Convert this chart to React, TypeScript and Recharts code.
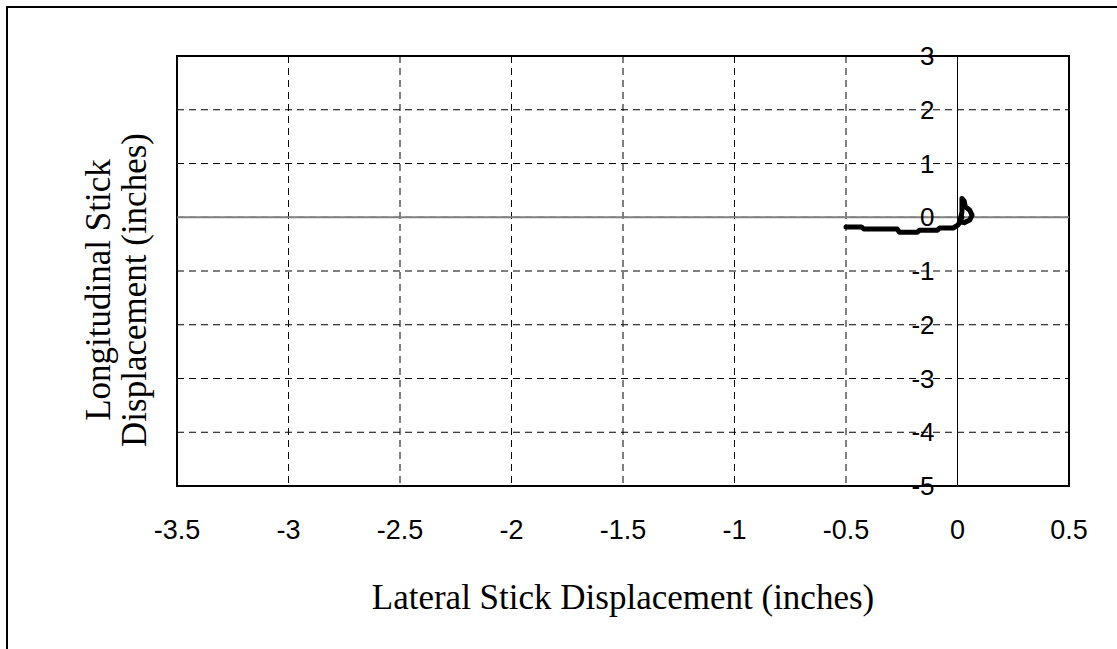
import React from 'react'
import { LineChart, Line, XAxis, YAxis, CartesianGrid, ReferenceLine, ReferenceArea } from 'recharts'

// stick trace, lateral (x) vs longitudinal (y), in inches
const lateral = [-0.5, -0.43, -0.42, -0.27, -0.26, -0.18, -0.17, -0.09, -0.08, -0.02, 0.0, 0.01, 0.02, 0.02, 0.03, 0.035, 0.055, 0.065, 0.055, 0.03, 0.01, 0.02]
const longitudinal = [-0.18, -0.18, -0.22, -0.22, -0.28, -0.28, -0.24, -0.24, -0.2, -0.2, -0.15, -0.1, 0.1, 0.35, 0.3, 0.2, 0.13, 0.04, -0.05, -0.1, -0.08, 0.0]

const xTicks = [-3.5, -3, -2.5, -2, -1.5, -1, -0.5, 0, 0.5]
const yTicks = [3, 2, 1, 0, -1, -2, -3, -4, -5]

const W = 1117
const H = 649
const PLOT_LEFT = 177
const PLOT_TOP = 56
const PLOT_RIGHT = 1069
const PLOT_BOTTOM = 486

const X_MIN = -3.5
const X_MAX = 0.5
// y axis crosses at x = 0
const Y_AXIS_X = PLOT_LEFT + ((0 - X_MIN) / (X_MAX - X_MIN)) * (PLOT_RIGHT - PLOT_LEFT)

const data = lateral.map((x, i) => ({ x, y: longitudinal[i] }))

const YTick = (props: any) => {
  const { y, payload } = props
  return (
    <text x={Y_AXIS_X - 23} y={y} textAnchor='end' dominantBaseline='central'
      fontFamily='Liberation Sans, Arial' fontSize={26} fill='#000'>
      {payload.value}
    </text>
  )
}

const XTick = (props: any) => {
  const { x, payload } = props
  return (
    <text x={x} y={PLOT_BOTTOM + 44} textAnchor='middle' dominantBaseline='central'
      fontFamily='Liberation Sans, Arial' fontSize={27} fill='#000'>
      {payload.value}
    </text>
  )
}

const App = () => {
  return (
    <div style={{ position: 'absolute', left: 0, top: 0, width: W, height: H, background: '#fff', overflow: 'hidden' }}>
      {/* outer frame, only top and left edges visible */}
      <div style={{ position: 'absolute', left: 6, top: 6, width: W, height: H, borderTop: '2px solid #000', borderLeft: '2px solid #000' }} />

      <LineChart width={W} height={H} data={data}
        margin={{ top: PLOT_TOP, right: W - PLOT_RIGHT, bottom: H - PLOT_BOTTOM - 60, left: PLOT_LEFT - 60 }}>
        <CartesianGrid stroke='#000' strokeDasharray='7 5' strokeWidth={1} />
        <XAxis dataKey='x' type='number' domain={[X_MIN, X_MAX]} ticks={xTicks} height={60}
          axisLine={false} tickLine={false} tick={<XTick />} interval={0} allowDataOverflow />
        <YAxis type='number' domain={[-5, 3]} ticks={yTicks} width={60}
          axisLine={false} tickLine={false} tick={<YTick />} interval={0} allowDataOverflow />

        <ReferenceLine y={0} stroke='#808080' strokeWidth={2} />
        <ReferenceLine x={0} stroke='#000' strokeWidth={1} />
        <ReferenceArea x1={X_MIN} x2={X_MAX} y1={-5} y2={3} fill='none' stroke='#000' strokeWidth={2} fillOpacity={0} />

        <Line type='linear' dataKey='y' stroke='#000' strokeWidth={5} dot={false}
          isAnimationActive={false} strokeLinejoin='round' strokeLinecap='round' />
      </LineChart>

      {/* axis titles */}
      <div style={{ position: 'absolute', left: PLOT_LEFT, width: PLOT_RIGHT - PLOT_LEFT, top: 578, textAlign: 'center',
        fontFamily: 'Liberation Serif, Times New Roman', fontSize: 35, lineHeight: '40px', color: '#000' }}>
        Lateral Stick Displacement (inches)
      </div>
      <div style={{ position: 'absolute', left: 119 - 220, top: 290 - 38, width: 440, height: 76, textAlign: 'center',
        transform: 'rotate(-90deg)', transformOrigin: '220px 38px',
        fontFamily: 'Liberation Serif, Times New Roman', fontSize: 35, lineHeight: '36px', color: '#000' }}>
        Longitudinal Stick<br />Displacement (inches)
      </div>
    </div>
  )
}

export default App
